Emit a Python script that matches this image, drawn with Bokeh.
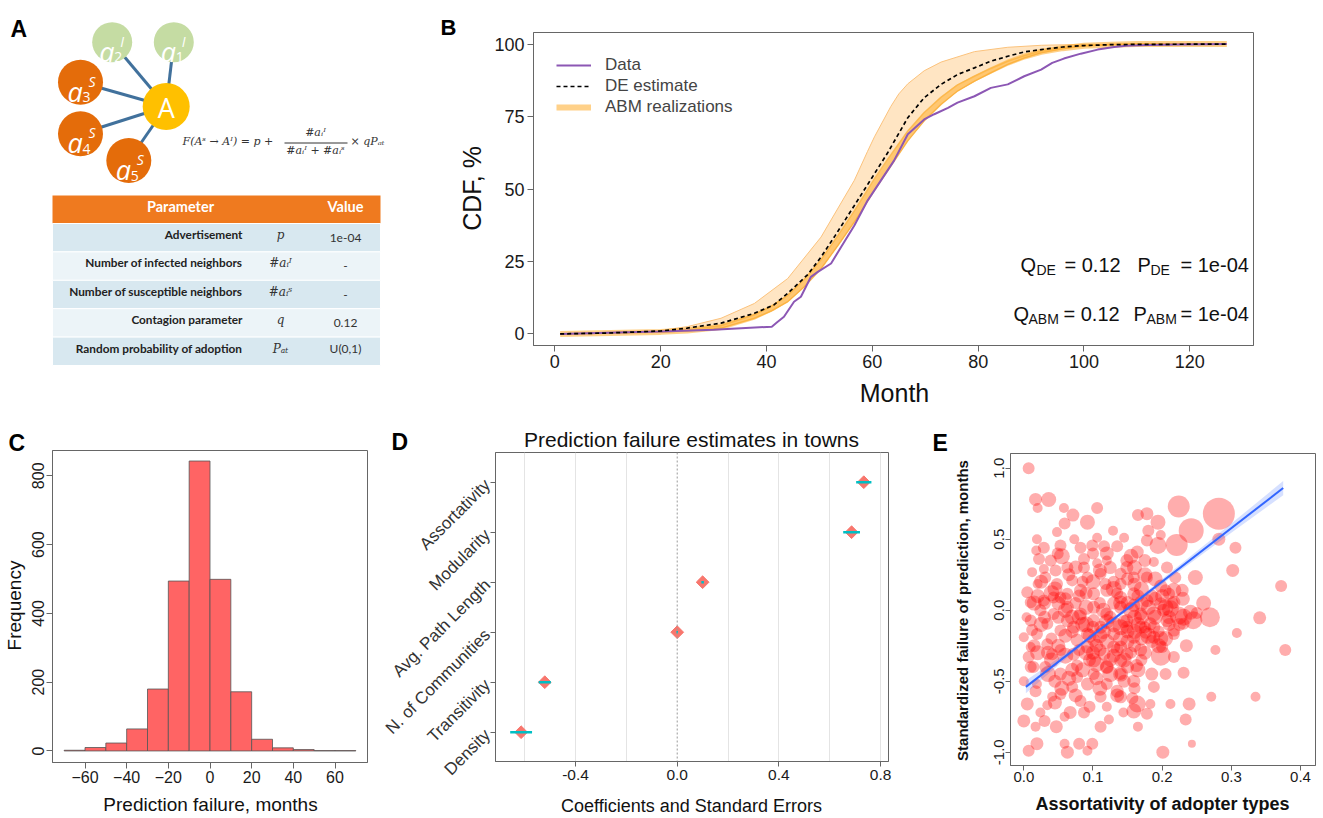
import numpy as np
from bokeh.plotting import figure
from bokeh.models import Range1d, FixedTicker, Legend, LegendItem, Span, PrintfTickFormatter, GridBox
from bokeh.embed import file_html
from bokeh.resources import INLINE
from bokeh.core.properties import value

FONT = "Liberation Sans"

# ---------------- data ----------------
# Panel A
node_sub = ["2", "1", "3", "4", "5"]
node_sup = ["I", "I", "S", "S", "S"]
params = ["Advertisement", "Number of infected neighbors", "Number of susceptible neighbors",
          "Contagion parameter", "Random probability of adoption"]
symbols = ["p", "#a\u1d62\u1d35", "#a\u1d62\u02e2", "q", "P\u2090\u209c"]
param_values = ["1e-04", "-", "-", "0.12", "U(0,1)"]

# Panel B
data_month = [1, 10, 20, 30, 41, 42, 43.3, 45.2, 46.5, 48.4, 49.7, 52.2, 54.1, 56.6, 59.1, 61.6, 64.1,
              66.7, 69.8, 71.7, 74.3, 76.1, 79.3, 82.4, 85.6, 88.7, 91.9, 94, 96.2, 99.4, 102.6,
              105.7, 108, 112, 118, 127]
data_cdf = [0, 0.4, 0.8, 1.4, 2.5, 4.0, 5.9, 11.1, 12.8, 19.7, 21.4, 24.3, 30, 37.4, 46, 52.9, 59.8,
            68.9, 74, 75.8, 78, 79.8, 82, 84.9, 86.1, 88.9, 91.2, 93.5, 95, 96.7, 98.1,
            99, 99.4, 99.7, 99.9, 100]
de_month = [1, 10, 20, 25, 31.4, 37.7, 41.4, 44, 47.8, 50.3, 53, 56.6, 59.1, 62.9, 66.7, 69.8, 73,
            76.1, 79.3, 82.4, 85.6, 88.7, 91.9, 96, 100, 105, 110, 127]
de_cdf = [0, 0.3, 1.0, 2.0, 3.7, 7.1, 10, 14, 20.5, 26.5, 34, 44.3, 51.5, 62.5, 74.6, 81.5, 86.1,
          89.5, 91.8, 94.1, 95.8, 97.3, 98.1, 99.0, 99.5, 99.8, 99.9, 100]
abm_up_month = [1, 20, 25, 31.4, 37.7, 44, 50.3, 56.6, 59.1, 60.4, 63.5, 65, 66.7, 69.8, 73, 79.3, 85.6,
                92, 100, 110, 127]
abm_upper = [0, 1.2, 2.5, 5.4, 10.5, 19.1, 33.4, 53, 63, 68, 78.5, 82.8, 86.3, 90.8, 93.8, 97.4, 98.9,
             99.6, 99.9, 100, 100]
abm_low_month = [1, 20, 25, 31.4, 37.7, 41, 44, 47.1, 50.3, 53.5, 56.6, 60.4, 62.9, 66.7, 69.8, 73,
                 76.1, 79.3, 82.4, 85.6, 88.7, 91.9, 96, 100, 105, 110, 127]
abm_lower = [0, 0.6, 1.0, 2.0, 5.4, 8.0, 11.1, 16.2, 22.5, 30.5, 38.6, 49.5, 56.3, 66.6, 73.5, 79.2,
             83.8, 87.2, 90.1, 93, 95.2, 97, 98.4, 99.3, 99.8, 100, 100]
abm_run2 = [0, 0.7, 1.2, 2.4, 6.0, 8.8, 12.2, 17.5, 24.0, 32.2, 40.5, 51.5, 58.3, 68.4, 75.0, 80.5,
            84.9, 88.1, 90.9, 93.6, 95.7, 97.3, 98.6, 99.4, 99.8, 100, 100]
abm_run3 = [0, 0.8, 1.4, 2.8, 6.6, 9.6, 13.3, 18.8, 25.6, 34.0, 42.5, 53.6, 60.3, 70.0, 76.4, 81.7,
            85.9, 88.9, 91.6, 94.1, 96.0, 97.6, 98.8, 99.5, 99.9, 100, 100]

# Panel C
hist_left = [-70, -60, -50, -40, -30, -20, -10, 0, 10, 20, 30, 40, 50, 60]
hist_right = [-60, -50, -40, -30, -20, -10, 0, 10, 20, 30, 40, 50, 60, 70]
hist_counts = [2, 10, 23, 64, 180, 494, 843, 499, 172, 34, 9, 4, 1, 1]

# Panel D
coef_names = ["Density", "Transitivity", "N. of Communities", "Avg. Path Length", "Modularity", "Assortativity"]
coef_est = [-0.614, -0.521, 0.0, 0.1, 0.686, 0.734]
coef_se = [0.043, 0.024, 0.003, 0.005, 0.033, 0.03]

# Panel E
e_x = [0.007, 0.017, 0.036, 0.020, 0.058, 0.071, 0.106, 0.092, 0.059, 0.129, 0.165, 0.178, 0.194, 0.180,
       0.224, 0.242, 0.282, 0.221, 0.194, 0.282, 0.306, 0.302, 0.248, 0.372, 0.269, 0.341, 0.308, 0.277,
       0.378, 0.335, 0.271, 0.231, 0.239, 0.234, 0.243, 0.201, 0.165, 0.178, 0.159, 0.144, 0.123, 0.111,
       0.099, 0.080, 0.092, 0.063, 0.059, 0.007, 0.019, 0.017, 0.000, 0.030, 0.047, 0.067, 0.087, 0.005,
       0.034, 0.017, 0.041, 0.000, 0.019, 0.070, 0.092, 0.111, 0.135, 0.157, 0.183, 0.188, 0.205, 0.217,
       0.198, 0.163, 0.140, 0.120, 0.101, 0.077, 0.053, 0.031, 0.007, 0.000, 0.012, 0.004, 0.010, 0.005,
       0.020, 0.012, 0.022, 0.018, 0.019, 0.039, 0.049, 0.053, 0.073, 0.082, 0.099, 0.116, 0.135, 0.164,
       0.149, 0.120, 0.087, 0.063, 0.046, 0.029, 0.188, 0.207, 0.219, 0.229, 0.198, 0.178, 0.159, 0.140,
       0.111, 0.092, 0.070, 0.048, 0.031, 0.217, 0.241, 0.231, 0.217, 0.200, 0.183, 0.169, 0.149, 0.176,
       0.159, 0.140, 0.116, 0.092, 0.072, 0.053, 0.034, 0.019, 0.034, 0.053, 0.072, 0.092, 0.111, 0.130,
       0.120, 0.101, 0.082, 0.063, 0.043, 0.024, 0.043, 0.063, 0.082, 0.101, 0.120, 0.140, 0.159, 0.178,
       0.198, 0.140, 0.159, 0.188, 0.207, 0.149, 0.169, 0.101, 0.077, 0.014, 0.041, 0.010, 0.120, 0.053,
       0.159, 0.140, 0.188, 0.210, 0.118, 0.140, 0.149, 0.087, 0.106, 0.053, 0.029, 0.010, 0.063, 0.101,
       0.130, 0.101, 0.077, 0.149, 0.169, 0.188, 0.202, 0.224, 0.082, 0.120, 0.140, 0.164, 0.212, 0.024,
       0.059, 0.106, 0.145, 0.048, 0.029, 0.198, 0.178, 0.212, 0.231, 0.245, 0.217, 0.198, 0.217, 0.205,
       0.05, 0.06, 0.075, 0.085, 0.095, 0.105, 0.11, 0.115, 0.125, 0.13, 0.135, 0.14, 0.145, 0.15, 0.155,
       0.16, 0.165, 0.17, 0.175, 0.18, 0.185, 0.19, 0.195, 0.06, 0.07, 0.08, 0.09, 0.10, 0.12, 0.13, 0.14,
       0.15, 0.16, 0.17, 0.025, 0.03, 0.035, 0.04, 0.045, 0.015, 0.02, 0.01, 0.055, 0.065, 0.075, 0.085,
       0.11, 0.125, 0.135, 0.16, 0.175, 0.185, 0.21, 0.215, 0.205, 0.225, 0.23, 0.25, 0.26, 0.235, 0.12,
       0.10, 0.155, 0.175, 0.045, 0.095]
e_y = [1.00, 0.78, 0.78, 0.72, 0.72, 0.67, 0.72, 0.62, 0.61, 0.56, 0.67, 0.68, 0.62, 0.56,
       0.73, 0.56, 0.68, 0.46, 0.455, 0.50, 0.44, 0.28, 0.23, 0.17, -0.05, -0.054, -0.16, -0.28,
       -0.28, -0.61, -0.61, -0.44, -0.66, -0.77, -0.94, -1.00, -0.82, -0.73, -0.71, -0.72, -0.77, -0.82,
       -0.94, -0.94, -0.99, -1.00, -0.94, -0.99, -0.94, -0.82, -0.78, -0.78, -0.82, -0.72, -0.72, -0.66,
       -0.67, -0.57, -0.61, -0.50, -0.52, -0.54, -0.52, -0.61, -0.57, -0.62, -0.66, -0.54, -0.45, -0.33,
       -0.32, -0.39, -0.45, -0.40, -0.35, -0.39, -0.45, -0.40, -0.33, -0.19, -0.14, -0.05, 0.056, 0.127,
       0.185, 0.268, 0.36, 0.42, 0.50, 0.35, 0.40, 0.455, 0.50, 0.44, 0.455, 0.45, 0.45, 0.41,
       0.35, 0.35, 0.36, 0.30, 0.28, 0.29, 0.34, 0.30, 0.23, 0.14, 0.17, 0.23, 0.23, 0.256,
       0.256, 0.23, 0.21, 0.185, 0.23, 0.056, -0.014, -0.096, -0.167, -0.26, -0.096, -0.026, -0.073, -0.155,
       -0.19, -0.26, -0.31, -0.26, -0.31, -0.28, -0.24, -0.167, -0.096, -0.143, -0.12, -0.167, -0.12, -0.167,
       -0.026, 0.02, -0.026, 0.02, -0.026, 0.000, 0.09, 0.115, 0.14, 0.115, 0.14, 0.09, 0.115, 0.068,
       0.045, 0.02, 0.033, -0.026, -0.073, -0.31, -0.28, -0.45, -0.47, -0.40, -0.31, -0.26, -0.52, -0.59,
       -0.50, -0.355, -0.19, 0.115, 0.185, 0.185, 0.30, 0.30, 0.33, 0.09, 0.068, -0.073, -0.073, -0.073,
       -0.26, -0.21, -0.21, -0.12, -0.12, -0.12, 0.000, -0.038, -0.64, -0.68, -0.61, -0.66, -0.66, -0.72,
       -0.75, 0.51, 0.51, 0.55, 0.44, 0.53, 0.49, 0.01, -0.05, -0.07, -0.14, -0.2, 0.14, 0.14,
       -0.05, -0.18, 0.05, -0.10, -0.35, -0.25, 0.05, -0.15, -0.05, -0.32, 0.12, -0.20, -0.08, 0.05, -0.30,
       -0.05, 0.10, -0.20, -0.12, 0.02, -0.22, 0.08, -0.15, 0.08, -0.42, -0.28, 0.02, -0.12, -0.40, 0.20, -0.45,
       -0.40, 0.18, -0.35, -0.10, 0.05, -0.30, -0.20, 0.15, -0.25, 0.10, -0.40, -0.55, 0.25, -0.60, 0.20,
       -0.55, 0.30, -0.60, -0.55, 0.25, -0.45, -0.05, 0.05, -0.20, -0.10, 0.08, -0.02, 0.05, -0.25, 0.40,
       0.40, 0.38, 0.35, -0.65, -0.68]
e_size = [12, 13, 15, 10, 10, 13, 12, 15, 12, 10, 12, 13, 15, 12,
          22, 25, 32, 22, 17, 13, 12, 13, 15, 12, 20, 13, 10, 10,
          12, 10, 10, 12, 13, 12, 8, 13, 10, 12, 15, 10, 10, 12,
          12, 12, 10, 13, 10, 12, 13, 10, 13, 12, 13, 13, 12, 13,
          10, 12, 10, 10, 10, 12, 13, 12, 13, 12, 10, 12, 12, 12,
          20, 13, 12, 13, 15, 12, 13, 12, 12, 10, 12, 10, 12, 12,
          10, 10, 12, 10, 10, 12, 12, 12, 10, 12, 12, 12, 12, 13,
          13, 10, 12, 12, 12, 10, 10, 12, 12, 13, 13, 12, 12, 12,
          12, 12, 12, 12, 12, 13, 15, 12, 12, 12, 13, 13, 13, 13,
          13, 13, 13, 13, 13, 12, 12, 12, 12, 12, 13, 13, 13, 13,
          13, 13, 13, 13, 12, 12, 12, 12, 13, 13, 13, 13, 13, 13,
          13, 13, 13, 15, 13, 13, 13, 12, 12, 12, 12, 10, 12, 12,
          13, 13, 13, 12, 12, 12, 13, 12, 10, 12, 12, 12, 13, 13,
          13, 13, 13, 13, 13, 13, 13, 18, 12, 10, 13, 17, 10, 10,
          10, 10, 10, 10, 12, 10, 12, 17, 17, 18, 13, 15, 15, 12,
          13, 14, 12, 15, 13, 14, 12, 15, 13, 14, 12, 15, 13, 14, 12,
          15, 13, 14, 12, 15, 13, 14, 12, 13, 14, 12, 15, 13, 14, 12, 15,
          13, 14, 12, 15, 13, 14, 12, 15, 13, 14, 12, 15, 13, 14, 12,
          15, 13, 14, 12, 15, 13, 14, 12, 15, 13, 14, 12, 15, 13, 14,
          12, 15, 13, 14, 12]
e2_x = [0.04, 0.05, 0.06, 0.07, 0.08, 0.09, 0.095, 0.105, 0.11, 0.115, 0.12, 0.125, 0.13, 0.135, 0.14,
        0.145, 0.15, 0.155, 0.16, 0.165, 0.17, 0.175, 0.18, 0.185, 0.19, 0.195, 0.2, 0.205, 0.21, 0.17,
        0.16, 0.15, 0.14, 0.13, 0.12, 0.11, 0.1, 0.09, 0.08, 0.07, 0.06, 0.05, 0.04, 0.03, 0.02, 0.015,
        0.025, 0.035, 0.045, 0.065, 0.085, 0.105, 0.125, 0.145, 0.165, 0.1, 0.11, 0.13, 0.15, 0.17, 0.19,
        0.075, 0.055, 0.09, 0.16]
e2_y = [-0.35, -0.25, -0.32, -0.15, -0.05, -0.3, -0.18, -0.38, -0.28, 0.0, -0.22, -0.35, -0.1, -0.28, 0.05,
        -0.35, -0.15, 0.0, -0.25, -0.1, 0.05, -0.3, -0.18, 0.1, -0.05, -0.25, 0.1, 0.02, -0.1, -0.05,
        -0.15, -0.22, -0.12, 0.05, -0.08, -0.18, -0.3, -0.1, 0.1, -0.05, 0.0, 0.05, 0.12, -0.05, -0.3, 0.05,
        0.2, -0.45, -0.5, -0.48, -0.42, -0.48, -0.45, -0.5, -0.42, 0.2, 0.28, 0.15, 0.22, 0.15, 0.22,
        0.3, 0.38, 0.12, 0.3]
e2_size = [15, 14, 16, 13, 15, 15, 14, 16, 13, 15, 15, 14, 16, 13, 15, 15, 14, 16, 13, 15, 15, 14, 16,
           13, 15, 15, 14, 16, 13, 15, 15, 14, 16, 13, 15, 15, 14, 16, 13, 15, 15, 14, 16, 13, 15, 15, 14,
           16, 13, 15, 15, 14, 16, 13, 15, 15, 14, 16, 13, 15, 15, 14, 16, 13, 15]
reg_x = [0.003, 0.375]
reg_y = [-0.54, 0.86]
reg_band_x = [0.003, 0.06, 0.12, 0.2, 0.3, 0.375]
reg_band_lo = [-0.585, -0.345, -0.115, 0.185, 0.545, 0.81]
reg_band_hi = [-0.495, -0.305, -0.09, 0.22, 0.61, 0.91]

n1 = min(len(e_x), len(e_y), len(e_size))
n2 = min(len(e2_x), len(e2_y), len(e2_size))
pts_x = e_x[:n1] + e2_x[:n2]
pts_y = e_y[:n1] + e2_y[:n2]
pts_s = e_size[:n1] + e2_size[:n2]


def style_axes(p, size, tick=6, standoff=3):
    for ax in p.axis:
        ax.major_tick_out = tick
        ax.major_tick_in = 0
        ax.minor_tick_out = 0
        ax.minor_tick_in = 0
        ax.axis_line_color = "#666666"
        ax.major_tick_line_color = "#666666"
        ax.major_label_text_font = FONT
        ax.major_label_text_font_size = f"{size}px"
        ax.major_label_text_color = "#1a1a1a"
        ax.major_label_standoff = standoff
    p.outline_line_color = "#666666"
    p.outline_line_width = 1
    p.frame_align = False


# ---------------- Panel A ----------------
pA = figure(width=440, height=415, x_range=Range1d(0, 440), y_range=Range1d(415, 0),
            x_axis_location=None, y_axis_location=None, min_border=0,
            output_backend="svg", toolbar_location=None)
pA.grid.visible = False
pA.outline_line_color = None
pA.frame_align = False

node_x = [111.7, 173.3, 80, 80, 128.3]
node_y = [41.7, 41.7, 81.7, 133.3, 160]
node_r = [20, 20, 22.5, 22.5, 22.5]
node_col = ["#C5DCA3", "#C5DCA3", "#E46C0A", "#E46C0A", "#E46C0A"]
cx, cy = 165.7, 106
pA.segment(x0=[cx] * 5, y0=[cy] * 5, x1=node_x, y1=node_y, line_color="#41719C", line_width=3)
pA.circle(x=node_x, y=node_y, radius=node_r, fill_color=node_col, line_color=None)
pA.circle(x=[cx], y=[cy], radius=23.5, fill_color="#FFC000", line_color=None)
pA.text(x=[v - 13 for v in node_x], y=[v + 9 for v in node_y], text=["a"] * 5,
        text_font=value("Open Sans"), text_font_style="italic", text_font_size="27px",
        text_color="white", text_baseline="alphabetic")
pA.text(x=[v + 2 for v in node_x], y=[v + 15 for v in node_y], text=node_sub,
        text_font=value("Open Sans"), text_font_size="14px", text_color="white", text_baseline="alphabetic")
pA.text(x=[v + 8 for v in node_x], y=[v - 1 for v in node_y], text=node_sup,
        text_font=value("Open Sans"), text_font_style="italic", text_font_size="14px",
        text_color="white", text_baseline="alphabetic")
pA.text(x=[cx], y=[cy + 1], text=["A"], text_font=value("Open Sans"), text_font_size="27px",
        text_color="white", text_align="center", text_baseline="middle")
SERIF = "DejaVu Serif"
pA.text(x=[182], y=[147], text=["F(A\u02e2 \u2192 A\u1d35) = p +"], text_font=value(SERIF),
        text_font_style="italic", text_font_size="11px", text_color="#333333")
pA.text(x=[315], y=[138], text=["#a\u1d62\u1d35"], text_font=value(SERIF), text_font_style="italic",
        text_font_size="11px", text_color="#333333", text_align="center")
pA.segment(x0=[284], y0=[142.5], x1=[347], y1=[142.5], line_color="#333333", line_width=1)
pA.text(x=[315], y=[156], text=["#a\u1d62\u1d35 + #a\u1d62\u02e2"], text_font=value(SERIF),
        text_font_style="italic", text_font_size="11px", text_color="#333333", text_align="center")
pA.text(x=[350], y=[147], text=["\u00d7 qP\u2090\u209c"], text_font=value(SERIF), text_font_style="italic",
        text_font_size="11px", text_color="#333333")
tx0, tx1 = 52, 380
pA.quad(left=[tx0], right=[tx1], top=[195], bottom=[223], fill_color="#EF7A1F", line_color=None)
row_top = [223 + 28.4 * i for i in range(len(params))]
row_col = ["#D8E8F0" if i % 2 == 0 else "#ECF4F8" for i in range(len(params))]
pA.quad(left=[tx0] * len(params), right=[tx1] * len(params), top=row_top,
        bottom=[t + 28.4 for t in row_top], fill_color=row_col, line_color="white", line_width=1)
pA.text(x=[180, 345], y=[214, 214], text=["Parameter", "Value"], text_font=value("Lato"),
        text_font_style="bold", text_font_size="14.5px", text_color="white", text_align="center")
pA.text(x=[242] * len(params), y=[t + 18.5 for t in row_top], text=params, text_font=value("Lato"),
        text_font_style="bold", text_font_size="11.8px", text_color="#222222", text_align="right")
pA.text(x=[280] * len(params), y=[t + 18.5 for t in row_top], text=symbols, text_font=value(SERIF),
        text_font_style="italic", text_font_size="12px", text_color="#333333", text_align="center")
pA.text(x=[345] * len(params), y=[t + 18.5 for t in row_top], text=param_values, text_font=value("Lato"),
        text_font_size="12px", text_color="#333333", text_align="center")

# ---------------- Panel B ----------------
pB = figure(width=882, height=415, x_range=Range1d(-4.04, 132.04), y_range=Range1d(-4.0, 104.0),
            min_border_left=93, min_border_right=69, min_border_top=32, min_border_bottom=70,
            output_backend="svg", toolbar_location=None)
style_axes(pB, 18, tick=6, standoff=3)
pB.grid.visible = False
pB.xaxis.ticker = FixedTicker(ticks=[0, 20, 40, 60, 80, 100, 120])
pB.yaxis.ticker = FixedTicker(ticks=[0, 25, 50, 75, 100])
pB.patch(x=abm_up_month + abm_low_month[::-1], y=abm_upper + abm_lower[::-1],
         fill_color="#FFE2BC", fill_alpha=0.9, line_color="#FBC27C", line_width=1)
pB.multi_line(xs=[abm_low_month] * 2, ys=[abm_lower, abm_run3], line_color="#F6A623",
              line_alpha=0.6, line_width=1.5)
r_abm = pB.line(abm_low_month, abm_run2, line_color="#FFB23A", line_alpha=0.6, line_width=6)
r_data = pB.line(data_month, data_cdf, line_color="#8C57B4", line_width=2)
r_de = pB.line(de_month, de_cdf, line_color="black", line_width=1.7, line_dash="4 3")
legB = Legend(items=[LegendItem(label="Data", renderers=[r_data]),
                     LegendItem(label="DE estimate", renderers=[r_de]),
                     LegendItem(label="ABM realizations", renderers=[r_abm])],
              location="top_left", margin=23, padding=0, spacing=1, glyph_width=35, glyph_height=18,
              label_height=18, label_standoff=14, label_text_font=FONT, label_text_font_size="17px",
              background_fill_alpha=0, border_line_color=None)
pB.add_layout(legB)
bx0, bx1, by0, by1 = -4.04, 132.04, -4.0, 104.0


def b_xy(px, py):
    return bx0 + (px - 533) / 720 * (bx1 - bx0), by1 - (py - 32) / 313 * (by1 - by0)


for (px, py, txt, sz) in [(1020, 264, "Q", 20), (1036, 269, "DE", 14), (1064, 264, "= 0.12", 20),
                          (1137, 264, "P", 20), (1150, 269, "DE", 14), (1180, 264, "= 1e-04", 20),
                          (1013, 313, "Q", 20), (1028, 318, "ABM", 14), (1063, 313, "= 0.12", 20),
                          (1133, 313, "P", 20), (1146, 318, "ABM", 14), (1180, 313, "= 1e-04", 20)]:
    x, y = b_xy(px, py)
    pB.text(x=[x], y=[y], text=[txt], text_font=value(FONT), text_font_size=f"{sz}px",
            text_color="#111111", text_baseline="alphabetic")

# ---------------- Panel C ----------------
pC = figure(width=368, height=402, x_range=Range1d(-75.6, 75.6), y_range=Range1d(-33.6, 873.6),
            min_border_left=52, min_border_right=1, min_border_top=35, min_border_bottom=55,
            output_backend="svg", toolbar_location=None)
style_axes(pC, 16, tick=6, standoff=2)
pC.grid.visible = False
pC.xaxis.ticker = FixedTicker(ticks=[-60, -40, -20, 0, 20, 40, 60])
pC.yaxis.ticker = FixedTicker(ticks=[0, 200, 400, 600, 800])
pC.yaxis.major_label_orientation = "vertical"
pC.quad(left=hist_left, right=hist_right, top=hist_counts, bottom=0, fill_color="#FF6464",
        line_color="#555555", line_width=0.8)

# ---------------- Panel D ----------------
pD = figure(width=552, height=402, x_range=Range1d(-0.7148, 0.8312), y_range=Range1d(0.414, 6.594),
            min_border_left=127, min_border_right=32, min_border_top=37, min_border_bottom=56,
            output_backend="svg", toolbar_location=None)
style_axes(pD, 15.5, tick=5, standoff=3)
pD.ygrid.visible = False
pD.xgrid.ticker = FixedTicker(ticks=[-0.6, -0.4, -0.2, 0.2, 0.4, 0.6, 0.8])
pD.xgrid.grid_line_color = "#E4E4E4"
pD.xaxis.ticker = FixedTicker(ticks=[-0.4, 0.0, 0.4, 0.8])
pD.xaxis.formatter = PrintfTickFormatter(format="%.1f")
ypos = list(range(1, len(coef_names) + 1))
pD.yaxis.ticker = FixedTicker(ticks=ypos)
pD.yaxis.major_label_overrides = {i: nm for i, nm in zip(ypos, coef_names)}
pD.yaxis.major_label_orientation = np.pi / 4
pD.yaxis.major_label_text_font_size = "17px"
pD.yaxis.major_label_text_color = "#333333"
pD.yaxis.major_label_standoff = 3
pD.add_layout(Span(location=0, dimension="height", line_color="#999999", line_dash="2 2", line_width=1))
pD.scatter(x=coef_est, y=ypos, marker="square", angle=np.pi / 4, size=9, fill_color="#F8766D",
           line_color="#F8766D")
pD.segment(x0=[c - s for c, s in zip(coef_est, coef_se)], x1=[c + s for c, s in zip(coef_est, coef_se)],
           y0=ypos, y1=ypos, line_color="#00BFC4", line_width=2.5)

# ---------------- Panel E ----------------
pE = figure(width=402, height=402, x_range=Range1d(-0.01923, 0.4217), y_range=Range1d(-1.0937, 1.1035),
            min_border_left=90, min_border_right=7, min_border_top=38, min_border_bottom=52,
            output_backend="svg", toolbar_location=None)
style_axes(pE, 15, tick=5, standoff=1)
pE.grid.visible = False
pE.xaxis.ticker = FixedTicker(ticks=[0.0, 0.1, 0.2, 0.3, 0.4])
pE.yaxis.ticker = FixedTicker(ticks=[-1.0, -0.5, 0.0, 0.5, 1.0])
pE.xaxis.formatter = PrintfTickFormatter(format="%.1f")
pE.yaxis.formatter = PrintfTickFormatter(format="%.1f")
pE.yaxis.major_label_orientation = "vertical"
pE.scatter(x=pts_x, y=pts_y, size=pts_s, fill_color="#FF0000", fill_alpha=0.32, line_color=None)
pE.varea(x=reg_band_x, y1=reg_band_lo, y2=reg_band_hi, fill_color="#3366FF", fill_alpha=0.2)
pE.line(reg_x, reg_y, line_color="#3366FF", line_width=2)

# ---------------- overlay for texts outside the plot frames ----------------
pO = figure(width=1322, height=817, x_range=Range1d(0, 1322), y_range=Range1d(1, 818),
            x_axis_location=None, y_axis_location=None, min_border=0,
            output_backend="svg", toolbar_location=None)
pO.grid.visible = False
pO.outline_line_color = None
pO.background_fill_color = None
pO.border_fill_color = None
pO.frame_align = False


def otext(px, py, text, size, bold=False, align="left", baseline="alphabetic", angle=0.0, color="#111111"):
    pO.text(x=[px], y=[818 - py], text=[text], text_font=value(FONT), text_font_size=f"{size}px",
            text_font_style="bold" if bold else "normal", text_align=align, text_baseline=baseline,
            angle=angle, text_color=color)


otext(10, 28, "A", 23, bold=True, color="black")
otext(440, 27, "B", 22, bold=True, color="black")
otext(8, 442, "C", 23, bold=True, color="black")
otext(391, 441, "D", 23, bold=True, color="black")
otext(932, 442, "E", 23, bold=True, color="black")
otext(471, 188, "CDF, %", 25, align="center", baseline="middle", angle=np.pi / 2)
otext(894, 392, "Month", 25, align="center", baseline="middle")
otext(14, 605, "Frequency", 19, align="center", baseline="middle", angle=np.pi / 2)
otext(210, 804, "Prediction failure, months", 19, align="center")
otext(691, 439, "Prediction failure estimates in towns", 21, align="center")
otext(691, 805, "Coefficients and Standard Errors", 18, align="center")
otext(962, 610, "Standardized failure of prediction, months", 15, bold=True, align="center",
      baseline="middle", angle=np.pi / 2)
otext(1162, 803, "Assortativity of adopter types", 18, bold=True, align="center")

layout = GridBox(children=[(pA, 0, 0, 1, 2), (pB, 0, 2, 1, 2), (pC, 1, 0, 1, 1), (pD, 1, 1, 1, 2),
                           (pE, 1, 3, 1, 1), (pO, 0, 0, 2, 4)],
                 rows=["415px", "402px"], cols=["368px", "72px", "480px", "402px"], spacing=0)
open("out.html", "w").write(file_html(layout, INLINE))
